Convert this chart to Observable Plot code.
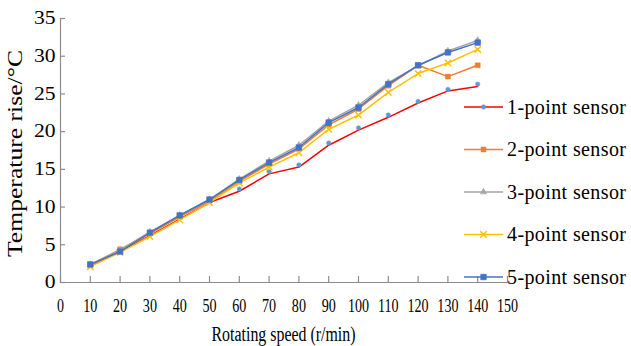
<!DOCTYPE html>
<html><head><meta charset="utf-8">
<script src="https://cdn.jsdelivr.net/npm/d3@7"></script>
<script src="https://cdn.jsdelivr.net/npm/@observablehq/plot@0.6"></script>
<style>
body{margin:0;background:#fff}
#chart{width:631px;height:346px}
</style>
</head><body><div id="chart"></div>
<script>
const speeds = [10, 20, 30, 40, 50, 60, 70, 80, 90, 100, 110, 120, 130, 140];
const s1Line = [2.2, 4.1, 6.2, 8.4, 10.6, 12.1, 14.4, 15.3, 18.2, 20.2, 21.9, 23.8, 25.4, 26.0];
const s1Marks = [2.3, 4.2, 6.4, 8.6, 10.8, 12.4, 14.7, 15.6, 18.5, 20.5, 22.2, 24.0, 25.6, 26.3];
const s2 = [2.3, 4.4, 6.5, 8.7, 10.8, 13.4, 15.7, 17.7, 20.9, 23.0, 26.1, 28.8, 27.3, 28.8];
const s3 = [2.4, 4.3, 6.7, 8.9, 11.0, 13.7, 16.1, 18.2, 21.4, 23.5, 26.5, 28.7, 30.7, 32.1];
const s4 = [2.1, 4.0, 6.1, 8.3, 10.6, 13.2, 15.3, 17.2, 20.3, 22.2, 25.2, 27.7, 29.1, 30.9];
const s5 = [2.4, 4.1, 6.6, 8.9, 11.0, 13.6, 15.9, 17.9, 21.2, 23.2, 26.3, 28.8, 30.5, 31.8];
const seriesNames = ["1-point sensor", "2-point sensor", "3-point sensor", "4-point sensor", "5-point sensor"];
const xTicks = [0, 10, 20, 30, 40, 50, 60, 70, 80, 90, 100, 110, 120, 130, 140, 150];
const yTicks = [0, 5, 10, 15, 20, 25, 30, 35];
const xTitle = "Rotating speed (r/min)";
const yTitle = "Temperature rise/°C";

const lineColors = ["#FF0000", "#ED7D31", "#A5A5A5", "#FFC000", "#4472C4"];
const markColors = ["#5B9BD5", "#ED7D31", "#A5A5A5", "#FFC000", "#4472C4"];
const symbols = ["circle", "square", "triangle", "times", "square"];
const markR = [2.2, 2.8, 2.4, 3, 3.2];
const axisColor = "#8c8c8c";
const serif = "'Liberation Serif', 'Times New Roman', serif";

const lineVals = [s1Line, s2, s3, s4, s5];
const markVals = [s1Marks, s2, s3, s4, s5];
const toRows = (vals, i) => speeds.map((s, j) => ({speed: s, value: vals[j], series: seriesNames[i]}));

const marks = [
  Plot.frame({anchor: "bottom", stroke: axisColor, strokeWidth: 1.2}),
  Plot.frame({anchor: "left", stroke: axisColor, strokeWidth: 1.2}),
  Plot.axisX({ticks: xTicks, tickSize: -6, tickPadding: 22, stroke: axisColor, strokeWidth: 1.2, fontSize: 19, fontFamily: serif, fill: "#000", label: null}),
  Plot.axisY({ticks: yTicks, tickSize: -5, tickPadding: 10, stroke: axisColor, strokeWidth: 1.2, fontSize: 18, fontFamily: serif, fill: "#000", label: null})
];
lineVals.forEach((vals, i) => {
  marks.push(Plot.line(toRows(vals, i), {x: "speed", y: "value", stroke: lineColors[i], strokeWidth: 1.5}));
  const sym = symbols[i];
  const filled = sym !== "times";
  marks.push(Plot.dot(toRows(markVals[i], i), {x: "speed", y: "value", symbol: () => sym, r: markR[i],
    fill: filled ? markColors[i] : "none", stroke: markColors[i], strokeWidth: filled ? 0.5 : 1.5}));
});

const plot = Plot.plot({
  width: 631, height: 346,
  marginLeft: 60, marginRight: 124, marginTop: 18, marginBottom: 64,
  x: {domain: [0, 150], label: null},
  y: {domain: [0, 35], label: null},
  symbol: {type: "identity"},
  style: {fontFamily: serif, background: "white", overflow: "visible"},
  marks
});
document.getElementById("chart").appendChild(plot);

const svg = d3.select(plot);
function fitText(sel, factor) {
  sel.each(function() {
    const w = this.getComputedTextLength();
    this.setAttribute("textLength", (w * factor).toFixed(1));
    this.setAttribute("lengthAdjust", "spacingAndGlyphs");
  });
}
fitText(svg.selectAll('g[aria-label="x-axis tick label"] text'), 0.74);
fitText(svg.selectAll('g[aria-label="y-axis tick label"] text'), 1.2);

// axis titles
const W = 631, H = 346, mL = 60, mR = 124, mT = 18, mB = 64;
svg.append("text").text(xTitle)
  .attr("x", (mL + W - mR) / 2).attr("y", 341)
  .attr("text-anchor", "middle").style("font-family", serif).style("font-size", "20px")
  .attr("textLength", 144).attr("lengthAdjust", "spacingAndGlyphs").attr("fill", "#000");
svg.append("text").text(yTitle)
  .attr("transform", `translate(22,${(50 + 257) / 2}) rotate(-90)`)
  .attr("text-anchor", "middle").style("font-family", serif).style("font-size", "22px")
  .attr("textLength", 207).attr("lengthAdjust", "spacingAndGlyphs").attr("fill", "#000");

// legend
const lg = svg.append("g").attr("text-anchor", "start");
const lx0 = 464, lx1 = 503, ly0 = 107, lstep = 42.5;
seriesNames.forEach((name, i) => {
  const y = ly0 + i * lstep;
  lg.append("line").attr("x1", lx0).attr("x2", lx1).attr("y1", y).attr("y2", y)
    .attr("stroke", lineColors[i]).attr("stroke-width", 1.5);
  const sym = symbols[i];
  const size = Math.PI * markR[i] * markR[i];
  const symbolType = {circle: d3.symbolCircle, square: d3.symbolSquare, triangle: d3.symbolTriangle, times: d3.symbolTimes}[sym];
  lg.append("path").attr("d", d3.symbol(symbolType, size)())
    .attr("transform", `translate(${(lx0 + lx1) / 2},${y})`)
    .attr("fill", sym === "times" ? "none" : markColors[i])
    .attr("stroke", markColors[i]).attr("stroke-width", sym === "times" ? 1.5 : 0.5);
  lg.append("text").text(name).attr("x", 507).attr("y", y).attr("dy", "0.34em")
    .attr("text-anchor", "start")
    .style("font-family", serif).style("font-size", "20px").attr("fill", "#000")
    .attr("textLength", 119).attr("lengthAdjust", "spacing");
});
</script>
</body></html>
